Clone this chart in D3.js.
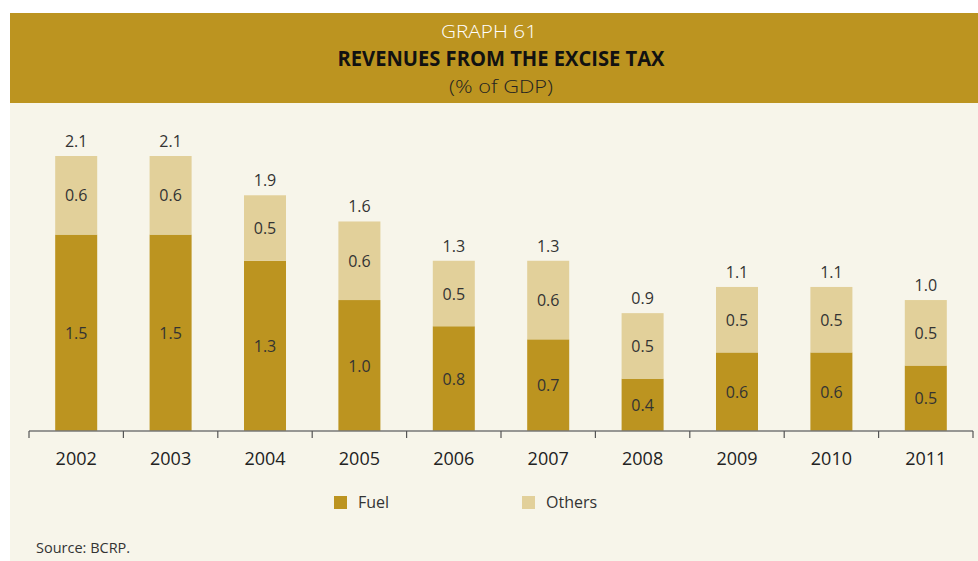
<!DOCTYPE html>
<html>
<head>
<meta charset="utf-8">
<script src="https://cdn.jsdelivr.net/npm/d3@7"></script>
<style>
  html, body { margin: 0; padding: 0; background: #ffffff; }
  svg { display: block; }
</style>
</head>
<body>
<svg id="chart" width="978" height="561"></svg>
<script>
// Excise tax revenues, % of GDP
const years = ["2002", "2003", "2004", "2005", "2006", "2007", "2008", "2009", "2010", "2011"];
const fuel = [1.5, 1.5, 1.3, 1.0, 0.8, 0.7, 0.4, 0.6, 0.6, 0.5];
const others = [0.6, 0.6, 0.5, 0.6, 0.5, 0.6, 0.5, 0.5, 0.5, 0.5];
const totals = [2.1, 2.1, 1.9, 1.6, 1.3, 1.3, 0.9, 1.1, 1.1, 1.0];
const seriesNames = ["Fuel", "Others"];
const colors = ["#bc9420", "#e2d09a"];

const svg = d3.select("#chart");
const W = 978, H = 561;
const font = "'Open Sans', 'Noto Sans', sans-serif";

// panel background and header band
svg.append("rect").attr("x", 10).attr("y", 103).attr("width", W - 10).attr("height", H - 103).attr("fill", "#f7f5ea");
svg.append("rect").attr("x", 10).attr("y", 13).attr("width", W - 10).attr("height", 90).attr("fill", "#bc9420");

svg.append("text").attr("x", 489).attr("y", 38).attr("text-anchor", "middle")
  .attr("font-family", font).attr("font-weight", 300).attr("font-size", 19).attr("fill", "#ffffff")
  .attr("textLength", 96).attr("lengthAdjust", "spacingAndGlyphs")
  .text("GRAPH 61");
svg.append("text").attr("x", 501).attr("y", 66).attr("text-anchor", "middle")
  .attr("font-family", font).attr("font-weight", 700).attr("font-size", 21).attr("fill", "#111111")
  .attr("textLength", 327).attr("lengthAdjust", "spacingAndGlyphs")
  .text("REVENUES FROM THE EXCISE TAX");
svg.append("text").attr("x", 501).attr("y", 93).attr("text-anchor", "middle")
  .attr("font-family", font).attr("font-weight", 300).attr("font-size", 19).attr("fill", "#222222")
  .attr("textLength", 104).attr("lengthAdjust", "spacingAndGlyphs")
  .text("(% of GDP)");

// scales
const x = d3.scaleBand().domain(years).range([29, 973]).paddingInner(0.555).paddingOuter(0.2775);
const y = d3.scaleLinear().domain([0, 2.1]).range([431, 156]);

const rows = years.map((yr, i) => ({ year: yr, Fuel: fuel[i], Others: others[i], total: totals[i] }));
const stacked = d3.stack().keys(seriesNames)(rows);

const g = svg.append("g");
stacked.forEach((layer, li) => {
  const lg = g.append("g");
  lg.selectAll("rect").data(layer).join("rect")
    .attr("x", d => x(d.data.year))
    .attr("width", x.bandwidth())
    .attr("y", d => y(d[1]))
    .attr("height", d => y(d[0]) - y(d[1]))
    .attr("fill", colors[li]);
  lg.selectAll("text").data(layer).join("text")
    .attr("x", d => x(d.data.year) + x.bandwidth() / 2)
    .attr("y", d => (y(d[0]) + y(d[1])) / 2 + 6)
    .attr("text-anchor", "middle")
    .attr("font-family", font).attr("font-size", 16).attr("fill", "#333333")
    .text(d => d3.format(".1f")(d[1] - d[0]));
});

// totals above each stack
g.append("g").selectAll("text").data(stacked[1]).join("text")
  .attr("x", d => x(d.data.year) + x.bandwidth() / 2)
  .attr("y", d => y(d[1]) - 9)
  .attr("text-anchor", "middle")
  .attr("font-family", font).attr("font-size", 16).attr("fill", "#333333")
  .text(d => d3.format(".1f")(d.data.total));

// x axis with ticks between categories
const axisG = svg.append("g").attr("transform", "translate(0,431)");
axisG.append("line").attr("x1", 29).attr("x2", 973).attr("stroke", "#777777").attr("stroke-width", 1.5);
const step = x.step();
const tickXs = d3.range(years.length + 1).map(i => 29 + i * step);
axisG.selectAll("line.tick").data(tickXs).join("line").attr("class", "tick")
  .attr("x1", d => d).attr("x2", d => d).attr("y1", 0).attr("y2", 7)
  .attr("stroke", "#555555").attr("stroke-width", 1.2);
axisG.selectAll("text").data(years).join("text")
  .attr("x", d => x(d) + x.bandwidth() / 2)
  .attr("y", 34)
  .attr("text-anchor", "middle")
  .attr("font-family", font).attr("font-size", 18).attr("fill", "#222222")
  .text(d => d);

// legend
const legendX = [334, 522];
const leg = svg.append("g");
seriesNames.forEach((name, i) => {
  leg.append("rect").attr("x", legendX[i]).attr("y", 496).attr("width", 13).attr("height", 13).attr("fill", colors[i]);
  leg.append("text").attr("x", legendX[i] + 24).attr("y", 508)
    .attr("font-family", font).attr("font-size", 16).attr("fill", "#333333").text(name);
});

svg.append("text").attr("x", 36).attr("y", 553)
  .attr("font-family", font).attr("font-size", 14.5).attr("fill", "#333333")
  .text("Source: BCRP.");
</script>
</body>
</html>
